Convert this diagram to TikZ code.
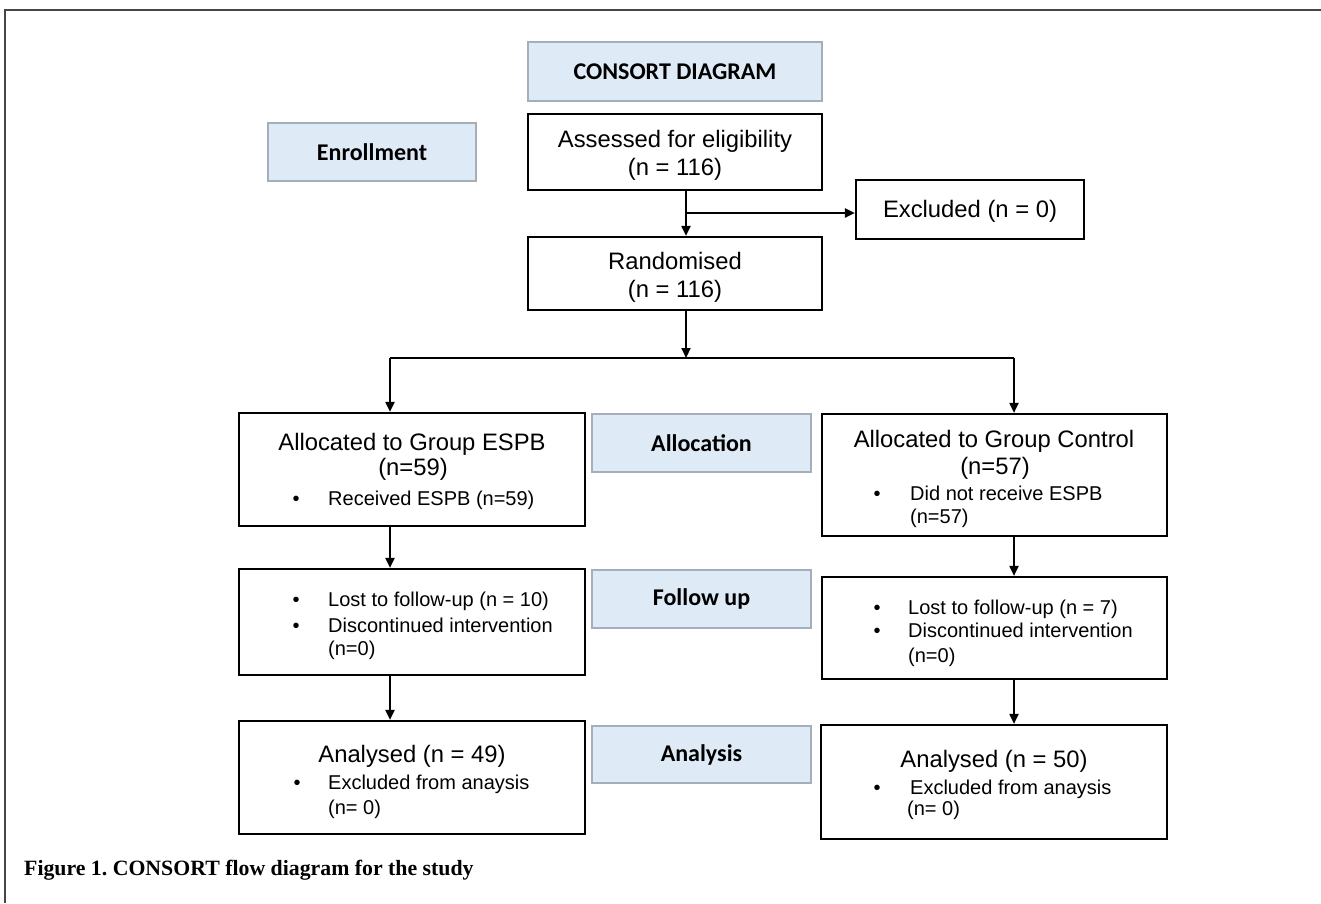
\documentclass[tikz,border=0pt]{standalone}
\usepackage{fontspec}
\setmainfont{Liberation Sans}
\newfontfamily\labfont{Carlito}
\newfontfamily\capfont{Liberation Serif}
\usetikzlibrary{arrows.meta}
\definecolor{labfill}{RGB}{222,234,246}
\definecolor{labdraw}{RGB}{165,175,188}
\definecolor{framecol}{RGB}{70,70,70}
\frenchspacing
\begin{document}
\begin{tikzpicture}[x=1pt,y=-1pt,
  box/.style={draw=black,line width=2.2pt,fill=white,inner sep=0pt},
  lab/.style={draw=labdraw,fill=labfill,line width=1.2pt,inner sep=0pt,
    font=\labfont\bfseries\fontsize{24}{28}\selectfont},
  big/.style={font=\fontsize{23.8}{28}\selectfont,inner sep=0pt,text height=0.75em,text depth=0.25em,yshift=-5pt},
  small/.style={font=\fontsize{20}{24}\selectfont,inner sep=0pt,text height=0.75em,text depth=0.25em,yshift=-5pt},
  arr/.style={line width=2pt,-{Triangle[length=10pt,width=9pt]}},
  conn/.style={line width=2pt}]
\useasboundingbox (0,0) rectangle (1321,903);
% frame
\draw[framecol,line width=1.2pt] (5,903) -- (5,10) -- (1321,10);

% label boxes
\node[lab,minimum width=294pt,minimum height=59pt] (consort) at (675,71.5) {CONSORT DIAGRAM};
\node[lab,minimum width=208pt,minimum height=58pt] (enroll) at (372,152) {Enrollment};
\node[lab,minimum width=219pt,minimum height=58pt] (allocLab) at (701.5,443) {Allocation};
\node[lab,minimum width=219pt,minimum height=58pt] (fuLab) at (701.5,599) {Follow up};
\node[lab,minimum width=219pt,minimum height=57pt] (anLab) at (701.5,754.5) {Analysis};

% flow boxes
\node[box,minimum width=294pt,minimum height=76pt] (assessed) at (675,152) {};
\node[box,minimum width=228pt,minimum height=59pt] (excluded) at (970,209.5) {};
\node[box,minimum width=294pt,minimum height=73pt] (randomised) at (675,273.5) {};
\node[box,minimum width=346pt,minimum height=113pt] (allocL) at (412,469.5) {};
\node[box,minimum width=345pt,minimum height=122pt] (allocR) at (994.5,475) {};
\node[box,minimum width=346pt,minimum height=106pt] (fuL) at (412,622) {};
\node[box,minimum width=345pt,minimum height=102pt] (fuR) at (994.5,628) {};
\node[box,minimum width=346pt,minimum height=113pt] (anL) at (412,777.5) {};
\node[box,minimum width=346pt,minimum height=114pt] (anR) at (994,782) {};

% texts
\node[big] (t0) at (970,210) {Excluded (n = 0)};
\node[big] (t1) at (675,140) {Assessed for eligibility};
\node[big] (t2) at (675,168) {(n = 116)};
\node[big] (t3) at (675,262) {Randomised};
\node[big] (t4) at (675,290) {(n = 116)};

\node[big] (t5) at (412,443) {Allocated to Group ESPB};
\node[big] (t6) at (413,468) {(n=59)};
\node[small] (b1) at (296,498) {•};
\node[small,anchor=west] (t7) at (328,498) {Received ESPB (n=59)};

\node[big] (t8) at (994,440) {Allocated to Group Control};
\node[big] (t9) at (995,467) {(n=57)};
\node[small] (b2) at (877,493) {•};
\node[small,anchor=west] (t10) at (910,493) {Did not receive ESPB};
\node[small,anchor=west] (t11) at (910,516) {(n=57)};

\node[small] (b3) at (296,599) {•};
\node[small,anchor=west] (t12) at (328,599) {Lost to follow-up (n = 10)};
\node[small] (b4) at (296,625) {•};
\node[small,anchor=west] (t13) at (328,625) {Discontinued intervention};
\node[small,anchor=west] (t14) at (328,648) {(n=0)};

\node[small] (b5) at (877,607) {•};
\node[small,anchor=west] (t15) at (908,607) {Lost to follow-up (n = 7)};
\node[small] (b6) at (877,630) {•};
\node[small,anchor=west] (t16) at (908,630) {Discontinued intervention};
\node[small,anchor=west] (t17) at (908,655) {(n=0)};

\node[big] (t18) at (412,755) {Analysed (n = 49)};
\node[small] (b7) at (297,782) {•};
\node[small,anchor=west] (t19) at (328,782) {Excluded from anaysis};
\node[small,anchor=west] (t20) at (328,807) {(n= 0)};

\node[big] (t21) at (994,760) {Analysed (n = 50)};
\node[small] (b8) at (877,787) {•};
\node[small,anchor=west] (t22) at (910,787) {Excluded from anaysis};
\node[small,anchor=west] (t23) at (907,808) {(n= 0)};

% caption
\node[anchor=west,inner sep=0pt,font=\capfont\bfseries\fontsize{21.8}{26}\selectfont] (cap) at (24,870) {Figure 1. CONSORT flow diagram for the study};

% connectors
\coordinate (cx) at (686,0);
\coordinate (br) at (686,213);
\coordinate (bar) at (686,358);
\coordinate (barL) at (390,358);
\coordinate (barR) at (1014,358);
\draw[arr] (assessed.south -| cx) -- (randomised.north -| cx);
\draw[arr] (br) -- (excluded.west |- br);
\draw[arr] (randomised.south -| cx) -- (bar);
\draw[conn] (barL) -- (barR);
\draw[arr] (barL) -- (allocL.north -| barL);
\draw[arr] (barR) -- (allocR.north -| barR);
\draw[arr] (allocL.south -| barL) -- (fuL.north -| barL);
\draw[arr] (allocR.south -| barR) -- (fuR.north -| barR);
\draw[arr] (fuL.south -| barL) -- (anL.north -| barL);
\draw[arr] (fuR.south -| barR) -- (anR.north -| barR);
\end{tikzpicture}
\end{document}
